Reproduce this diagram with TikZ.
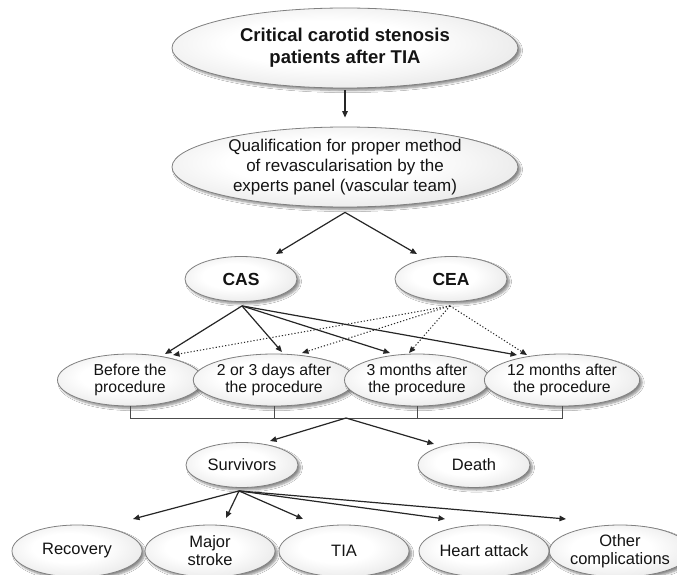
\documentclass[tikz,border=0pt]{standalone}
\usepackage{fontspec}
\setmainfont{Liberation Sans}
\usetikzlibrary{shapes.geometric,shadows.blur,arrows.meta,calc}
\pgfdeclareradialshading{ovalshade}{\pgfpoint{-4bp}{4bp}}{color(0bp)=(white); color(14bp)=(white); color(36bp)=(black!12); color(50bp)=(black!26); color(60bp)=(black!26)}
\begin{document}
\begin{tikzpicture}[x=1pt,y=-1pt,
 oval/.style={ellipse, draw=black!50, line width=0.8pt, shading=ovalshade,
   inner sep=0pt, align=center, text=black!92,
   blur shadow={shadow xshift=2.5pt, shadow yshift=-2.5pt, shadow blur steps=6, shadow opacity=45}},
 big/.style={oval, minimum width=346pt, minimum height=80pt},
 mid/.style={oval, minimum width=112pt, minimum height=45pt, font=\fontsize{16.5}{18}\selectfont},
 row/.style={oval, minimum width=145pt, minimum height=52pt, font=\fontsize{15.8}{17.5}\selectfont},
 bot/.style={oval, minimum width=130pt, minimum height=52pt, font=\fontsize{16.5}{18}\selectfont},
 arr/.style={-{Triangle[length=6.5pt,width=5.5pt]}, draw=black!85, line width=1.2pt},
 darr/.style={arr, dotted, line width=1pt},
 brk/.style={draw=black!70, line width=1pt}]
\useasboundingbox (0,0) rectangle (677,575);
\fill[white] (0,0) rectangle (677,575);
\clip (0,0) rectangle (677,575);

% nodes
\node[big, font=\bfseries\fontsize{18.5}{22}\selectfont] (top) at (345,48) {Critical carotid stenosis\\patients after TIA};
\node[big, font=\fontsize{17}{20}\selectfont] (qual) at (345,167) {Qualification for proper method\\of revascularisation by the\\experts panel (vascular team)};
\node[mid, font=\bfseries\fontsize{17.5}{19}\selectfont] (cas) at (241,279) {CAS};
\node[mid, font=\bfseries\fontsize{17.5}{19}\selectfont] (cea) at (451,279) {CEA};
\node[row] (before) at (130,380) {Before the\\procedure};
\node[row] (d23) at (274,380) {2 or 3 days after\\the procedure};
\node[row] (m3) at (417,380) {3 months after\\the procedure};
\node[row] (m12) at (562,380) {12 months after\\the procedure};
\node[mid] (surv) at (242,465) {Survivors};
\node[mid] (death) at (474,465) {Death};
\node[bot] (rec) at (77,551) {Recovery};
\node[bot] (major) at (210,551) {Major\\stroke};
\node[bot] (tia) at (344,551) {TIA};
\node[bot] (heart) at (484,551) {Heart attack};
\node[bot] (other) at (620,551) {Other\\complications};

% coordinates
\coordinate (qout) at ([shift={(0,5)}]qual.south);
\coordinate (casout) at ([shift={(1,4)}]cas.south);
\coordinate (ceaout) at ([shift={(-1,4)}]cea.south);
\coordinate (hub) at (346,418);
\coordinate (survout) at ([shift={(-3,3)}]surv.south);

% top connectors
\draw[arr] ([shift={(0,2)}]top.south) -- ([shift={(0,-9)}]qual.north);
\draw[arr] (qout) -- ([shift={(35,-25)}]cas.center);
\draw[arr] (qout) -- ([shift={(-34,-25)}]cea.center);

% CAS connectors
\draw[arr] (casout) -- ([shift={(35,-26)}]before.center);
\draw[arr] (casout) -- ([shift={(8,-28)}]d23.center);
\draw[arr] (casout) -- ([shift={(-27,-27)}]m3.center);
\draw[arr] (casout) -- ([shift={(-45,-25)}]m12.center);

% CEA connectors
\draw[darr] (ceaout) -- ([shift={(43,-25)}]before.center);
\draw[darr] (ceaout) -- ([shift={(28,-27)}]d23.center);
\draw[darr] (ceaout) -- ([shift={(-8,-27)}]m3.center);
\draw[darr] (ceaout) -- ([shift={(-35,-25)}]m12.center);

% bracket
\draw[brk] (before.south) -- (before.south |- hub) -- (m12.south |- hub) -- (m12.south);
\draw[brk] (d23.south) -- (d23.south |- hub);
\draw[brk] (m3.south) -- (m3.south |- hub);
\draw[arr] (hub) -- ([shift={(28,-24)}]surv.center);
\draw[arr] (hub) -- ([shift={(-40,-21)}]death.center);

% survivors connectors
\draw[arr] (survout) -- ([shift={(56,-32)}]rec.center);
\draw[arr] (survout) -- ([shift={(16,-33)}]major.center);
\draw[arr] (survout) -- ([shift={(-41,-32)}]tia.center);
\draw[arr] (survout) -- ([shift={(-39,-32)}]heart.center);
\draw[arr] (survout) -- ([shift={(-54,-32)}]other.center);
\end{tikzpicture}
\end{document}
